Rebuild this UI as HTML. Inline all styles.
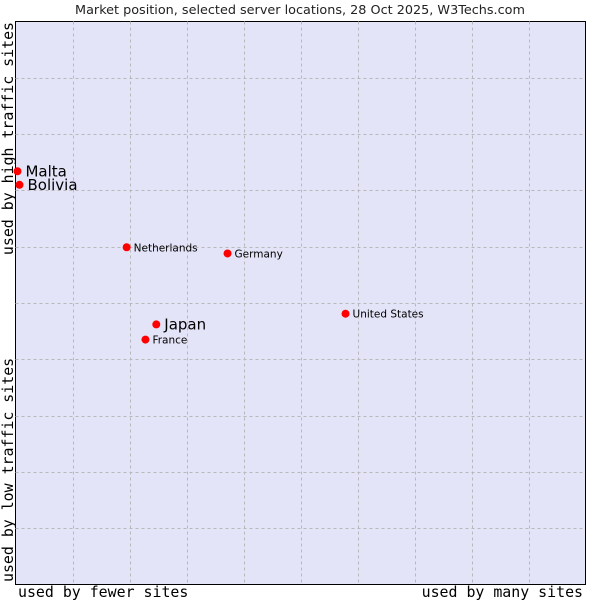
<!DOCTYPE html>
<html><head><meta charset="utf-8"><style>
body{margin:0;background:#fff;width:600px;height:600px;overflow:hidden}
svg text{font-family:"DejaVu Sans","Liberation Sans",sans-serif}
.mono{font-family:"DejaVu Sans Mono","Liberation Mono",monospace;font-size:14.9px}
</style></head><body>
<svg id="chart" width="600" height="600" xmlns="http://www.w3.org/2000/svg">
<text x="300" y="14" text-anchor="middle" font-size="12.8" fill="#222">Market position, selected server locations, 28 Oct 2025, W3Techs.com</text>
<rect x="15.5" y="21.5" width="570" height="563" fill="#e4e4f8" stroke="#000" stroke-width="1"/>
<g id="grid"></g>
<g id="points"></g>
<text class="mono" x="18" y="597">used by fewer sites</text>
<text class="mono" x="583" y="597" text-anchor="end">used by many sites</text>
<text class="mono" transform="translate(13,22) rotate(-90)" text-anchor="end">used by high traffic sites</text>
<text class="mono" transform="translate(13,582) rotate(-90)">used by low traffic sites</text>
</svg>
<script>
const names=["Malta","Bolivia","Netherlands","Germany","United States","Japan","France"];
const xVals=[0.35,0.7,19.5,37.2,57.9,24.7,22.8];
const yVals=[73.4,71.0,59.9,58.8,48.1,46.2,43.5];
const highlighted=["Malta","Bolivia","Japan"];
const L=15.5,R=585.5,T=21.5,B=584.5;
const sx=v=>L+v/100*(R-L), sy=v=>B-v/100*(B-T);
const NS="http://www.w3.org/2000/svg";
const g=document.getElementById('grid'), p=document.getElementById('points');
for(let i=1;i<10;i++){
  let l=document.createElementNS(NS,'line');
  
  
  let x=Math.round(sx(i*10))+0.5;
  l.setAttribute('x1',x);l.setAttribute('x2',x);l.setAttribute('y1',T);l.setAttribute('y2',B);
  l.setAttribute('stroke','#b8b8b8');l.setAttribute('stroke-dasharray','3,3');g.appendChild(l);
  let h=document.createElementNS(NS,'line');
  
  
  let y=Math.round(sy(i*10))+0.5;
  h.setAttribute('x1',L);h.setAttribute('x2',R);h.setAttribute('y1',y);h.setAttribute('y2',y);
  h.setAttribute('stroke','#b8b8b8');h.setAttribute('stroke-dasharray','3,3');g.appendChild(h);
}
names.forEach((n,i)=>{
  const x=sx(xVals[i]),y=sy(yVals[i]);
  const big=highlighted.includes(n);
  let c=document.createElementNS(NS,'circle');
  
  
  c.setAttribute('cx',x);c.setAttribute('cy',y);c.setAttribute('r',4);c.setAttribute('fill','#f00');p.appendChild(c);
  let t=document.createElementNS(NS,'text');
  
  
  t.setAttribute('x',x+(big?8:7));t.setAttribute('y',y+(big?5:4));
  t.setAttribute('font-size',big?15:10.5);t.setAttribute('fill','#000');
  t.textContent=n;p.appendChild(t);
});
</script>
</body></html>
